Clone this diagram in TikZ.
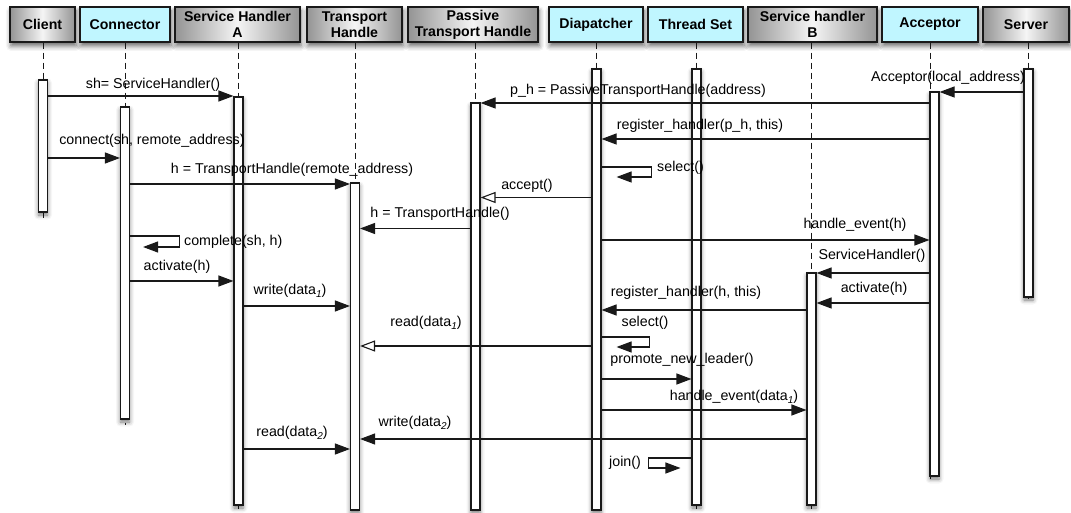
\documentclass[tikz,border=0pt]{standalone}
\usepackage{fontspec}
\setmainfont{Liberation Sans}
\usetikzlibrary{arrows.meta,shadows.blur,calc}
\definecolor{hdrcyan}{RGB}{192,246,255}
\definecolor{ink}{RGB}{25,25,25}
% italic subscript used in data_1 / data_2
\newcommand\dsub[1]{\raisebox{-3bp}{\fontsize{10}{10}\selectfont\itshape #1}}

\tikzset{
  hdr/.style={draw=ink, line width=1.1bp, minimum height=35bp, inner sep=1bp,
    align=center, font=\fontsize{14.2}{16}\selectfont\bfseries,
    blur shadow={shadow xshift=1bp, shadow yshift=-4bp, shadow blur radius=5bp, shadow opacity=60}},
  hdrgray/.style={hdr, left color=black!42, right color=black!42, middle color=black!4},
  hdrcy/.style={hdr, fill=hdrcyan},
  act/.style={draw=ink, line width=1.1bp, fill=white, minimum width=9bp, inner sep=0bp,
    blur shadow={shadow xshift=0bp, shadow yshift=-3bp, shadow blur radius=4.5bp, shadow opacity=55}},
  life/.style={draw=ink, line width=0.9bp, dash pattern=on 6bp off 4bp},
  msg/.style={draw=ink, line width=1.1bp, -{Triangle[length=15bp,width=11bp]}},
  reply/.style={draw=ink, line width=1.1bp, -{Triangle[open,length=15bp,width=11bp,fill=white]}},
  lbl/.style={font=\fontsize{14.3}{16}\selectfont, inner sep=0pt, text=black},
}

\begin{document}
\begin{tikzpicture}[x=1bp,y=-1bp]
\useasboundingbox (0,0) rectangle (1071,513);

% participants
\node[hdrgray, minimum width=65bp]  (hCl)  at (42.5,24.5)  {Client};
\node[hdrcy,   minimum width=90bp]  (hCon) at (125,24.5)   {Connector};
\node[hdrgray, minimum width=125bp] (hSHA) at (237.5,24.5) {Service Handler\\A};
\node[hdrgray, minimum width=95bp]  (hTH)  at (354.5,24.5) {Transport\\Handle};
\node[hdrgray, minimum width=130bp] (hPTH) at (473,24.5)   {Passive\\Transport Handle};
\node[hdrcy,   minimum width=94bp]  (hDia) at (596,24.5)   {Diapatcher};
\node[hdrcy,   minimum width=95bp]  (hTS)  at (695.5,24.5) {Thread Set};
\node[hdrgray, minimum width=129bp] (hSHB) at (812.5,24.5) {Service handler\\B};
\node[hdrcy,   minimum width=96bp]  (hAcc) at (930,24.5)   {Acceptor};
\node[hdrgray, minimum width=86bp]  (hSrv) at (1026,24.5)  {Server};

% centres of the activation bars
\path (43,146)     coordinate (pCl)
      (125,263)    coordinate (pCon)
      (238.5,301)  coordinate (pSHA)
      (355,346.5)  coordinate (pTH)
      (475.5,306.5) coordinate (pPTH)
      (596.5,289.5) coordinate (pDia)
      (696.5,287)  coordinate (pTS)
      (811.5,389)  coordinate (pSHB)
      (934.5,284)  coordinate (pAcc)
      (1028.5,183) coordinate (pSrv);

% lifelines
\draw[life] (pCl |- hCl.south)   -- (pCl |- 0,218);
\draw[life] (pCon |- hCon.south) -- (pCon |- 0,425);
\draw[life] (pSHA |- hSHA.south) -- (pSHA |- 0,510);
\draw[life] (pTH |- hTH.south)   -- (pTH |- 0,512);
\draw[life] (pPTH |- hPTH.south) -- (pPTH |- 0,512);
\draw[life] (pDia |- hDia.south) -- (pDia |- 0,512);
\draw[life] (pTS |- hTS.south)   -- (pTS |- 0,510);
\draw[life] (pSHB |- hSHB.south) -- (pSHB |- 0,510);
\draw[life] (hAcc.south)         -- (hAcc.south |- 0,481);
\draw[life] (pSrv |- hSrv.south) -- (pSrv |- 0,302);

% activation bars
\node[act, minimum height=132bp] (aCl)  at (pCl)  {};
\node[act, minimum height=312bp] (aCon) at (pCon) {};
\node[act, minimum height=408bp] (aSHA) at (pSHA) {};
\node[act, minimum height=327bp] (aTH)  at (pTH)  {};
\node[act, minimum height=407bp] (aPTH) at (pPTH) {};
\node[act, minimum height=441bp] (aDia) at (pDia) {};
\node[act, minimum height=436bp] (aTS)  at (pTS)  {};
\node[act, minimum height=232bp] (aSHB) at (pSHB) {};
\node[act, minimum height=384bp] (aAcc) at (pAcc) {};
\node[act, minimum height=228bp] (aSrv) at (pSrv) {};

% messages
\draw[msg] (aCl.east |- 0,96) -- (aSHA.west |- 0,96);
\node[lbl] (l01) at (153,85) {sh= ServiceHandler()};

\draw[msg] (aSrv.west |- 0,92) -- (aAcc.east |- 0,92);
\node[lbl] (l02) at (948,78) {Acceptor(local\_address)};

\draw[msg] (aAcc.west |- 0,103) -- (aPTH.east |- 0,103);
\node[lbl] (l03) at (638,91) {p\_h = PassiveTransportHandle(address)};

\draw[msg] (aAcc.west |- 0,139) -- (aDia.east |- 0,139);
\node[lbl] (l04) at (700,126) {register\_handler(p\_h, this)};

\draw[msg] (aCl.east |- 0,158) -- (aCon.west |- 0,158);
\node[lbl] (l05) at (152,141) {connect(sh, remote\_address)};

\draw[msg] (aDia.east |- 0,167) -- ++(50,0) -- ++(0,10) -- ++(-35,0);
\node[lbl, anchor=west] (l06) at (657,168) {select()};

\draw[msg] (aCon.east |- 0,184) -- (aTH.west |- 0,184);
\node[lbl] (l07) at (292,170) {h = TransportHandle(remote\_address)};

\draw[reply] (aDia.west |- 0,197.5) -- (aPTH.east |- 0,197.5);
\node[lbl] (l08) at (527,186) {accept()};

\draw[msg] (aPTH.west |- 0,228.5) -- (aTH.east |- 0,228.5);
\node[lbl] (l09) at (440,214) {h = TransportHandle()};

\draw[msg] (aDia.east |- 0,240) -- (aAcc.west |- 0,240);
\node[lbl] (l10) at (855,225) {handle\_event(h)};

\draw[msg] (aCon.east |- 0,236) -- ++(49,0) -- ++(0,11) -- ++(-36,0);
\node[lbl, anchor=west] (l11) at (184,242) {complete(sh, h)};

\draw[msg] (aAcc.west |- 0,273) -- (aSHB.east |- 0,273);
\node[lbl] (l12) at (872,256) {ServiceHandler()};

\draw[msg] (aCon.east |- 0,281) -- (aSHA.west |- 0,281);
\node[lbl] (l13) at (177,267) {activate(h)};

\draw[msg] (aAcc.west |- 0,303) -- (aSHB.east |- 0,303);
\node[lbl] (l14) at (874,289) {activate(h)};

\draw[msg] (aSHA.east |- 0,306) -- (aTH.west |- 0,306);
\node[lbl] (l15) at (290,291) {write(data\dsub{1})};

\draw[msg] (aSHB.west |- 0,310) -- (aDia.east |- 0,310);
\node[lbl] (l16) at (686,293) {register\_handler(h, this)};

\draw[msg] (aDia.east |- 0,337) -- ++(48,0) -- ++(0,10) -- ++(-33,0);
\node[lbl] (l17) at (645,323) {select()};

\draw[reply] (aDia.west |- 0,346) -- (aTH.east |- 0,346);
\node[lbl] (l18) at (426,323) {read(data\dsub{1})};

\draw[msg] (aDia.east |- 0,379) -- (aTS.west |- 0,379);
\node[lbl] (l19) at (682,360) {promote\_new\_leader()};

\draw[msg] (aDia.east |- 0,410) -- (aSHB.west |- 0,410);
\node[lbl] (l20) at (734,397) {handle\_event(data\dsub{1})};

\draw[msg] (aSHB.west |- 0,439) -- (aTH.east |- 0,439);
\node[lbl] (l21) at (415,423) {write(data\dsub{2})};

\draw[msg] (aSHA.east |- 0,449) -- (aTH.west |- 0,449);
\node[lbl] (l22) at (292,433) {read(data\dsub{2})};

\draw[msg] (aTS.west |- 0,458) -- ++(-43,0) -- ++(0,10) -- ++(32,0);
\node[lbl] (l23) at (625,463) {join()};

\end{tikzpicture}
\end{document}
